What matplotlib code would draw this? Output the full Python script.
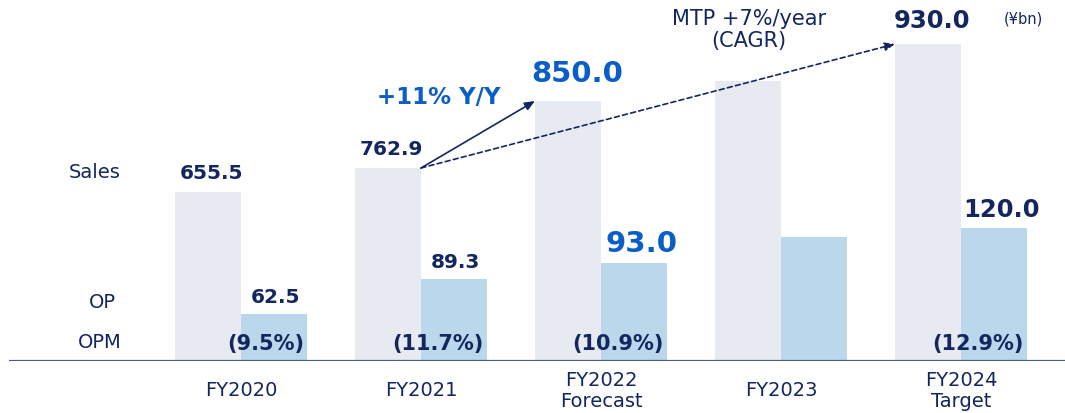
import matplotlib
matplotlib.use("Agg")
import matplotlib.pyplot as plt
import numpy as np

# Données du graphique (en milliards de yens)
years = ['FY2020', 'FY2021', 'FY2022\nForecast', 'FY2023', 'FY2024\nTarget']
sales = [655.5, 762.9, 850.0, None, 930.0]
op = [62.5, 89.3, 93.0, None, 120.0]
opm = [9.5, 11.7, 10.9, None, 12.9]
# Hauteurs dessinées (le graphique d'origine est schématique, pas à l'échelle)
sales_bar = [169, 193, 260, 280, 317]
op_bar = [47, 82, 98, 124, 133]

navy = '#13265e'
blue = '#0a5ec8'
grey = '#e7eaf0'
light_blue = '#bad7ec'

plt.rcParams['font.family'] = ['DejaVu Sans']

fig = plt.figure(figsize=(10.65, 4.13), dpi=100)
ax = fig.add_axes([9 / 1065, 52 / 413, 1056 / 1065, 361 / 413])
ax.set_xlim(-1.289, 4.578)
ax.set_ylim(0, 361)
ax.axis('off')

x = np.arange(len(years))
w = 0.367

ax.bar(x - w / 2, sales_bar, w, color=grey, zorder=1)
ax.bar(x + w / 2, op_bar, w, color=light_blue, zorder=1)

# Ligne de base
ax.axhline(0, color='#4b5b82', lw=1.6, zorder=3)


def label_style(i):
    # prévision en bleu, objectif plus grand
    if i == 2:
        return blue, 21
    if i == 4:
        return navy, 17.5
    return navy, 14.5


# Étiquettes des valeurs
for i in range(len(years)):
    if sales[i] is not None:
        col, fs = label_style(i)
        ax.text(x[i] - w / 2 + (0.05 if i == 2 else 0.02), sales_bar[i] + 0.9 * fs,
                f'{sales[i]:.1f}', ha='center', va='baseline', fontsize=fs,
                fontweight='bold', color=col)
    if op[i] is not None:
        col, fs = label_style(i)
        ax.text(x[i] + w / 2 + (0.04 if i >= 2 else 0.01), op_bar[i] + 11,
                f'{op[i]:.1f}', ha='center', va='baseline', fontsize=fs,
                fontweight='bold', color=col)
    if opm[i] is not None:
        ax.text(x[i] + w - 0.017, 17, f'({opm[i]:.1f}%)', ha='right', va='center',
                fontsize=15, fontweight='bold', color=navy, zorder=4)
    ax.text(x[i], -30, years[i], ha='center', va='center', fontsize=14,
            color=navy, linespacing=1.15, clip_on=False)

# Libellés à gauche
ax.text(-0.811, 189, 'Sales', ha='center', va='center', fontsize=14, color=navy)
ax.text(-0.772, 59, 'OP', ha='center', va='center', fontsize=14, color=navy)
ax.text(-0.783, 18, 'OPM', ha='center', va='center', fontsize=14, color=navy)

# Flèches de croissance
ax.annotate('', xy=(2 - w, sales_bar[2]), xytext=(1, sales_bar[1]),
            arrowprops=dict(arrowstyle='-|>,head_length=0.6,head_width=0.25',
                            color=navy, lw=1.2, shrinkA=0, shrinkB=0))
ax.annotate('', xy=(4 - w, sales_bar[4]), xytext=(1, sales_bar[1]),
            arrowprops=dict(arrowstyle='-|>,head_length=0.6,head_width=0.25',
                            color=navy, lw=1.2, linestyle=(0, (3, 2)),
                            shrinkA=0, shrinkB=0))

ax.text(1.1, 263, '+11% Y/Y', ha='center', va='center', fontsize=16.5,
        fontweight='bold', color=blue)
ax.text(2.822, 331, 'MTP +7%/year\n(CAGR)', ha='center', va='center',
        fontsize=15, color=navy, linespacing=1.1)
ax.text(4.344, 342, '(¥bn)', ha='center', va='center', fontsize=10.5, color=navy)

fig.savefig('out.png', dpi=100)
